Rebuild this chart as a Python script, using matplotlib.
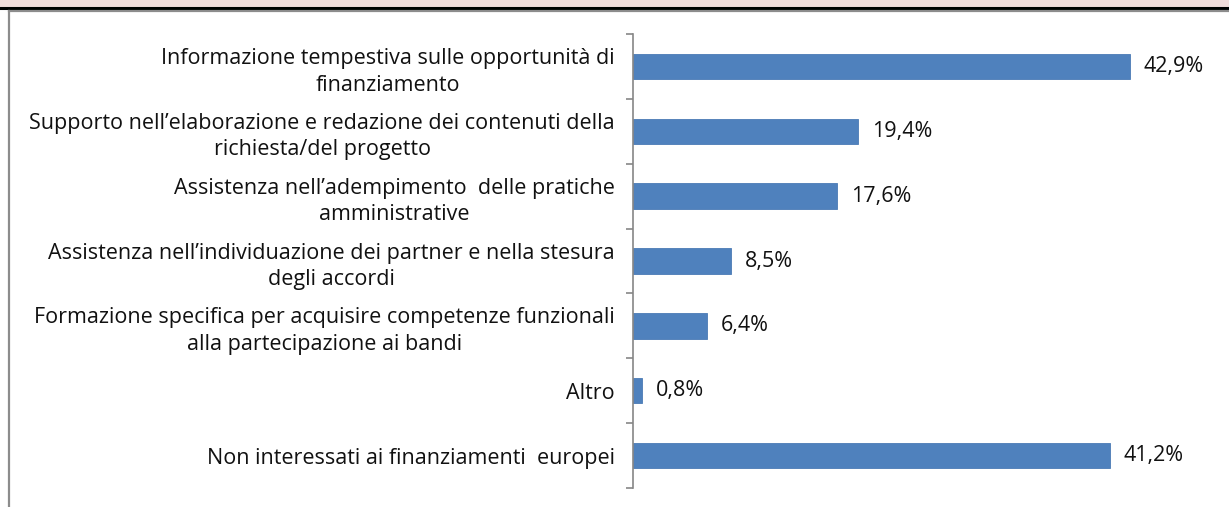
import matplotlib.pyplot as plt
from matplotlib.patches import Rectangle
from matplotlib.lines import Line2D

plt.rcParams['font.family'] = ['Open Sans', 'DejaVu Sans']

categorie = [
    "Informazione tempestiva sulle opportunità di\nfinanziamento",
    "Supporto nell\u2019elaborazione e redazione dei contenuti della\nrichiesta/del progetto",
    "Assistenza nell\u2019adempimento  delle pratiche\namministrative",
    "Assistenza nell\u2019individuazione dei partner e nella stesura\ndegli accordi",
    "Formazione specifica per acquisire competenze funzionali\nalla partecipazione ai bandi",
    "Altro",
    "Non interessati ai finanziamenti  europei",
]
valori = [42.9, 19.4, 17.6, 8.5, 6.4, 0.8, 41.2]
etichette = ["42,9%", "19,4%", "17,6%", "8,5%", "6,4%", "0,8%", "41,2%"]

W, H = 1229, 507
fig = plt.figure(figsize=(W / 100, H / 100), dpi=100)

# fascia rosa del titolo e bordi della cornice
fig.patches.append(Rectangle((0, 1 - 7 / H), 1, 7 / H, transform=fig.transFigure,
                             facecolor='#f2dcdb', edgecolor='none'))
fig.lines.append(Line2D([0, 1], [1 - 8 / H, 1 - 8 / H], transform=fig.transFigure,
                        color='black', linewidth=2.2))
fig.lines.append(Line2D([8.5 / W, 1], [1 - 11 / H, 1 - 11 / H], transform=fig.transFigure,
                        color='#8c8c8c', linewidth=1.6))
fig.lines.append(Line2D([8.5 / W, 8.5 / W], [0, 1 - 11 / H], transform=fig.transFigure,
                        color='#8c8c8c', linewidth=1.6))

x0, x1 = 633, 1212
ax = fig.add_axes([x0 / W, (H - 488) / H, (x1 - x0) / W, (488 - 34) / H])

y = list(range(len(valori)))
ax.barh(y, valori, height=0.39, color='#4f81bd', edgecolor='#4a7ab5', linewidth=0.6)
for yi, v, t in zip(y, valori, etichette):
    ax.text(v + 1.2, yi, t, va='center', ha='left', fontsize=15.5, color='#111111')

ax.set_xlim(0, 50)
ax.set_ylim(len(valori) - 0.5, -0.5)
ax.set_yticks(y)
ax.set_yticklabels(categorie, fontsize=15.5, color='#111111', linespacing=1.35,
                   multialignment='center')
ax.set_yticks([i - 0.5 for i in range(len(valori) + 1)], minor=True)
ax.tick_params(axis='y', which='major', length=0, pad=13)
ax.tick_params(axis='y', which='minor', length=5, color='#868686', width=1.2)
ax.set_xticks([])
for s in ['top', 'right', 'bottom']:
    ax.spines[s].set_visible(False)
ax.spines['left'].set_color('#868686')
ax.spines['left'].set_linewidth(1.2)

fig.savefig('out.png', dpi=100)
